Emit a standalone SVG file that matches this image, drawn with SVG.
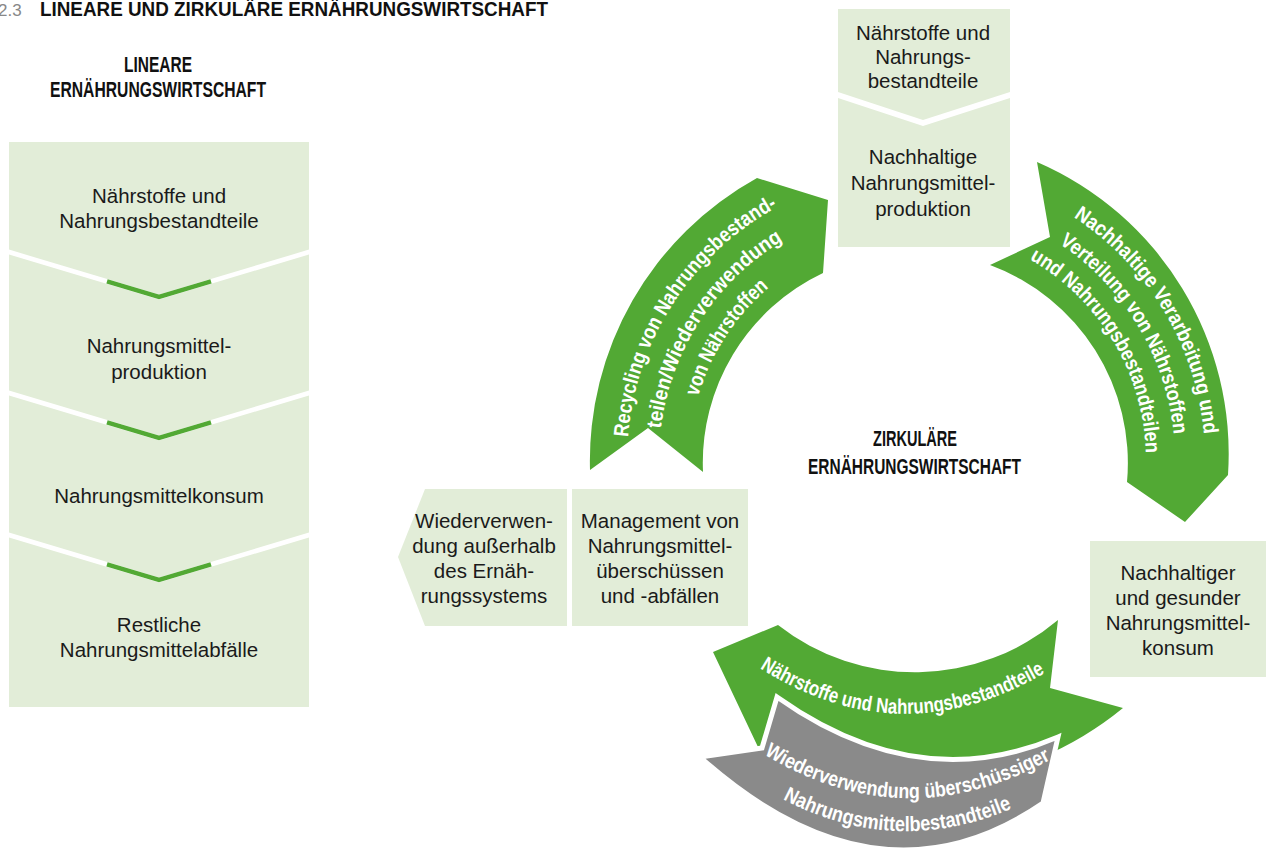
<svg xmlns="http://www.w3.org/2000/svg" width="1270" height="848" viewBox="0 0 1270 848">
<style>
.box{fill:#e2edd8}
.t{font-family:"Liberation Sans",Arial,sans-serif;font-size:20.5px;fill:#1a1a1a;text-anchor:middle}
.h{font-family:"Liberation Sans",Arial,sans-serif;font-weight:bold;font-size:22px;fill:#111}
.grn{fill:#52a934}
.gry{fill:#8a8a8a;stroke:#fff;stroke-width:5;stroke-linejoin:miter}
.at{font-family:"Liberation Sans",Arial,sans-serif;font-weight:bold;font-size:21px;fill:#fff;text-anchor:middle}
.chev{fill:none;stroke:#52a934;stroke-width:4.5;stroke-linejoin:miter}
</style>
<defs>
<path id="r1" d="M670.8,612.6 A288,288 0 0 1 955.1,174.8"/>
<path id="r2" d="M697.9,595.7 A256,256 0 0 1 950.6,206.5"/>
<path id="r3" d="M723.4,579.8 A226,226 0 0 1 946.5,236.2"/>
<path id="v1" d="M884.7,171.6 A290,290 0 0 1 1155.4,622.2"/>
<path id="v2" d="M887.8,201.4 A260,260 0 0 1 1130.5,605.4"/>
<path id="v3" d="M890.9,230.3 A231,231 0 0 1 1106.5,589.2"/>
<path id="b1" d="M755,665 Q900,760 1050,670"/>
<path id="g1" d="M760,752 Q905,842 1055,757"/>
<path id="g2" d="M775,795 Q895,862 1020,805"/>
</defs>

<g id="title">
<text x="-2" y="16" font-family="Liberation Sans, Arial, sans-serif" font-size="17" fill="#888">2.3</text>
<text class="h" x="40" y="16" font-size="20" textLength="508" lengthAdjust="spacingAndGlyphs" style="font-size:20px">LINEARE UND ZIRKULÄRE ERNÄHRUNGSWIRTSCHAFT</text>
</g>

<g id="linear-heading">
<text class="h" x="124" y="72" textLength="68" lengthAdjust="spacingAndGlyphs">LINEARE</text>
<text class="h" x="50" y="97" textLength="216" lengthAdjust="spacingAndGlyphs">ERNÄHRUNGSWIRTSCHAFT</text>
</g>

<g id="lin-naehrstoffe">
<polygon class="box" points="9,142 309,142 309,249.6 159,294.6 9,249.6"/>
<text class="t" x="159" y="203">Nährstoffe und</text>
<text class="t" x="159" y="228">Nahrungsbestandteile</text>
</g>
<g id="lin-produktion">
<polygon class="box" points="9,254.4 159,299.4 309,254.4 309,390.6 159,435.6 9,390.6"/>
<text class="t" x="159" y="353">Nahrungsmittel-</text>
<text class="t" x="159" y="379">produktion</text>
</g>
<g id="lin-konsum">
<polygon class="box" points="9,395.4 159,440.4 309,395.4 309,532.6 159,577.6 9,532.6"/>
<text class="t" x="159" y="503">Nahrungsmittelkonsum</text>
</g>
<g id="lin-abfaelle">
<polygon class="box" points="9,537.4 159,582.4 309,537.4 309,707 9,707"/>
<text class="t" x="159" y="632">Restliche</text>
<text class="t" x="159" y="657">Nahrungsmittelabfälle</text>
</g>

<g id="circular-heading">
<text class="h" x="873" y="446" textLength="84" lengthAdjust="spacingAndGlyphs">ZIRKULÄRE</text>
<text class="h" x="808" y="474" textLength="213" lengthAdjust="spacingAndGlyphs">ERNÄHRUNGSWIRTSCHAFT</text>
</g>

<g id="circ-naehrstoffe">
<polygon class="box" points="838,9 1010,9 1010,92 923,120 838,92"/>
<text class="t" x="923" y="40">Nährstoffe und</text>
<text class="t" x="923" y="64">Nahrungs-</text>
<text class="t" x="923" y="88">bestandteile</text>
</g>
<g id="circ-produktion">
<polygon class="box" points="838,98 923,126 1010,98 1010,247 838,247"/>
<text class="t" x="923" y="164">Nachhaltige</text>
<text class="t" x="923" y="190">Nahrungsmittel-</text>
<text class="t" x="923" y="216">produktion</text>
</g>
<g id="circ-konsum">
<rect class="box" x="1090" y="541" width="176" height="136"/>
<text class="t" x="1178" y="580">Nachhaltiger</text>
<text class="t" x="1178" y="605">und gesunder</text>
<text class="t" x="1178" y="630">Nahrungsmittel-</text>
<text class="t" x="1178" y="655">konsum</text>
</g>
<g id="circ-management">
<rect class="box" x="572" y="489" width="176" height="137"/>
<text class="t" x="660" y="528">Management von</text>
<text class="t" x="660" y="553">Nahrungsmittel-</text>
<text class="t" x="660" y="578">überschüssen</text>
<text class="t" x="660" y="603">und -abfällen</text>
</g>
<g id="circ-wiederverwendung">
<polygon class="box" points="425,489 567,489 567,626 425,626 398,557"/>
<text class="t" x="484" y="528">Wiederverwen-</text>
<text class="t" x="484" y="553">dung außerhalb</text>
<text class="t" x="484" y="578">des Ernäh-</text>
<text class="t" x="484" y="603">rungssystems</text>
</g>

<g id="connectors">
<polyline class="chev" points="107,281.4 159,297 211,281.4"/>
<polyline class="chev" points="107,422.4 159,438 211,422.4"/>
<polyline class="chev" points="107,564.4 159,580 211,564.4"/>

<g id="arrow-recycling">
<path class="grn" d="M590,470 A323,323 0 0 1 757,178 L828,200 L823,273 A210,210 0 0 0 703,472 L648,428 Z"/>
<text class="at"><textPath href="#r1" startOffset="50%" textLength="286" lengthAdjust="spacingAndGlyphs">Recycling von Nahrungsbestand-</textPath></text>
<text class="at"><textPath href="#r2" startOffset="50%" textLength="232" lengthAdjust="spacingAndGlyphs">teilen/Wiederverwendung</textPath></text>
<text class="at"><textPath href="#r3" startOffset="50%" textLength="132" lengthAdjust="spacingAndGlyphs">von Nährstoffen</textPath></text>
</g>

<g id="arrow-verarbeitung">
<path class="grn" d="M1037,162 A318,318 0 0 1 1228,475 L1185,522 L1127,482 A211,211 0 0 0 990,265 L1050,237 Z"/>
<text class="at"><textPath href="#v1" startOffset="50%" textLength="262" lengthAdjust="spacingAndGlyphs">Nachhaltige Verarbeitung und</textPath></text>
<text class="at"><textPath href="#v2" startOffset="50%" textLength="230" lengthAdjust="spacingAndGlyphs">Verteilung von Nährstoffen</textPath></text>
<text class="at"><textPath href="#v3" startOffset="50%" textLength="236" lengthAdjust="spacingAndGlyphs">und Nahrungsbestandteilen</textPath></text>
</g>

<g id="arrow-naehrstoffe">
<path class="grn" d="M713,652 L778,625 A222,222 0 0 0 1058,620 L1050,688 L1123,708 A335,335 0 0 1 758,747 Z"/>
<text class="at"><textPath href="#b1" startOffset="50%" textLength="302" lengthAdjust="spacingAndGlyphs">Nährstoffe und Nahrungsbestandteile</textPath></text>
</g>

<g id="arrow-wiederverwendung">
<path class="gry" d="M777,697 Q918,797 1058,737 L1043,803 Q878,916 700,757 L762,748 Z"/>
<text class="at"><textPath href="#g1" startOffset="50%" textLength="302" lengthAdjust="spacingAndGlyphs">Wiederverwendung überschüssiger</textPath></text>
<text class="at"><textPath href="#g2" startOffset="50%" textLength="238" lengthAdjust="spacingAndGlyphs">Nahrungsmittelbestandteile</textPath></text>
</g>
</g>
</svg>
